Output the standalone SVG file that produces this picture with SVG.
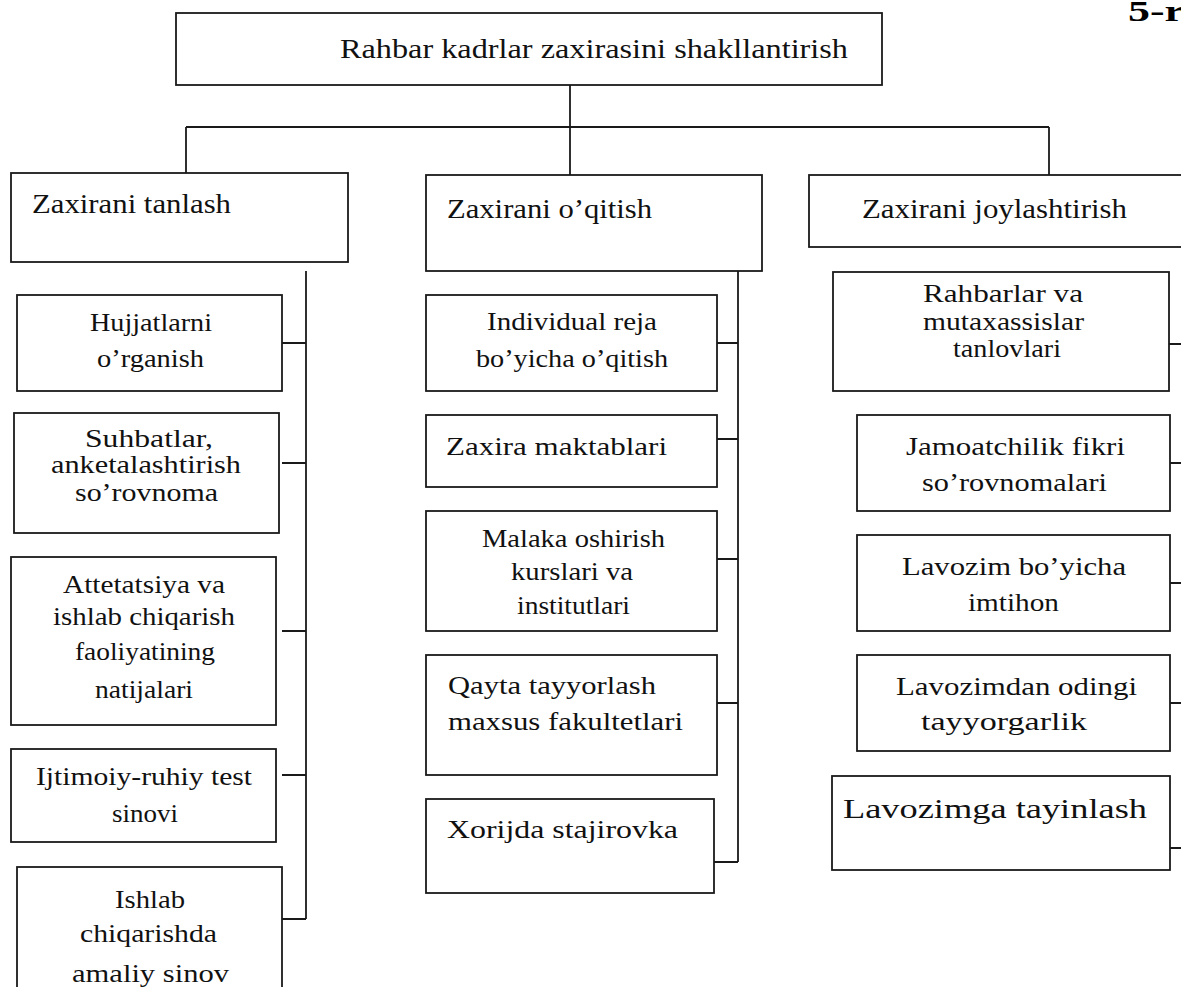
<svg xmlns="http://www.w3.org/2000/svg" width="1181" height="987" viewBox="0 0 1181 987">
  <style>
    .box { fill: #ffffff; stroke: #1a1a1a; stroke-width: 1.8; }
    .lbl { font-family: "Liberation Serif", "Times New Roman", "DejaVu Serif", serif; font-size: 26px; fill: #111111; }
    .hd { font-size: 27px; }
    .big { font-size: 28px; }
    .ttl { font-family: "Liberation Serif", "Times New Roman", "DejaVu Serif", serif; font-size: 30px; font-weight: bold; fill: #000000; }
    .wire { fill: none; stroke: #1a1a1a; stroke-width: 1.8; }
  </style>
  <rect x="0" y="0" width="1181" height="987" fill="#ffffff"/>

  <text class="ttl" x="1128" y="21" textLength="56" lengthAdjust="spacingAndGlyphs">5-r</text>

  <!-- connectors -->
  <g id="connectors">
    <path class="wire" d="M570,85 V127 M186,127 H1049 M186,127 V173 M570,127 V175 M1049,127 V175"/>
    <!-- left branch spine -->
    <path class="wire" d="M306,271 V919 M282,343 H306 M282,463 H306 M282,631 H306 M282,775 H306 M282,919 H306"/>
    <!-- middle branch spine -->
    <path class="wire" d="M738,271 V862 M714,343 H738 M714,439 H738 M714,559 H738 M714,703 H738 M714,862 H738"/>
    <!-- right branch stubs -->
    <path class="wire" d="M1169,344 H1181 M1170,463 H1181 M1170,583 H1181 M1170,703 H1181 M1170,848 H1181"/>
  </g>

  <!-- root -->
  <g id="root">
    <rect class="box" x="176" y="13" width="706" height="72"/>
    <text class="lbl hd" x="340" y="58" textLength="508" lengthAdjust="spacingAndGlyphs">Rahbar kadrlar zaxirasini  shakllantirish</text>
  </g>

  <!-- left column -->
  <g id="zaxirani-tanlash">
    <rect class="box" x="11" y="173" width="337" height="89"/>
    <text class="lbl hd" x="32" y="213" textLength="199" lengthAdjust="spacingAndGlyphs">Zaxirani  tanlash</text>
  </g>
  <g id="hujjatlarni">
    <rect class="box" x="17" y="295" width="265" height="96"/>
    <text class="lbl" x="90" y="331" textLength="122" lengthAdjust="spacingAndGlyphs">Hujjatlarni</text>
    <text class="lbl" x="97" y="367" textLength="107" lengthAdjust="spacingAndGlyphs">o’rganish</text>
  </g>
  <g id="suhbatlar">
    <rect class="box" x="14" y="413" width="265" height="120"/>
    <text class="lbl" x="85" y="447" textLength="128" lengthAdjust="spacingAndGlyphs">Suhbatlar,</text>
    <text class="lbl" x="51" y="473" textLength="190" lengthAdjust="spacingAndGlyphs">anketalashtirish</text>
    <text class="lbl" x="75" y="501" textLength="143" lengthAdjust="spacingAndGlyphs">so’rovnoma</text>
  </g>
  <g id="attetatsiya">
    <rect class="box" x="11" y="557" width="265" height="168"/>
    <text class="lbl" x="63" y="593" textLength="162" lengthAdjust="spacingAndGlyphs">Attetatsiya va</text>
    <text class="lbl" x="53" y="625" textLength="182" lengthAdjust="spacingAndGlyphs">ishlab chiqarish</text>
    <text class="lbl" x="75" y="660" textLength="140" lengthAdjust="spacingAndGlyphs">faoliyatining</text>
    <text class="lbl" x="95" y="698" textLength="98" lengthAdjust="spacingAndGlyphs">natijalari</text>
  </g>
  <g id="ijtimoiy">
    <rect class="box" x="11" y="749" width="265" height="93"/>
    <text class="lbl" x="36" y="785" textLength="216" lengthAdjust="spacingAndGlyphs">Ijtimoiy-ruhiy  test</text>
    <text class="lbl" x="112" y="822" textLength="66" lengthAdjust="spacingAndGlyphs">sinovi</text>
  </g>
  <g id="ishlab">
    <rect class="box" x="17" y="867" width="265" height="140"/>
    <text class="lbl" x="115" y="908" textLength="70" lengthAdjust="spacingAndGlyphs">Ishlab</text>
    <text class="lbl" x="80" y="942" textLength="137" lengthAdjust="spacingAndGlyphs">chiqarishda</text>
    <text class="lbl" x="72" y="982" textLength="157" lengthAdjust="spacingAndGlyphs">amaliy  sinov</text>
  </g>

  <!-- middle column -->
  <g id="zaxirani-oqitish">
    <rect class="box" x="426" y="175" width="336" height="96"/>
    <text class="lbl hd" x="447" y="218" textLength="205" lengthAdjust="spacingAndGlyphs">Zaxirani  o’qitish</text>
  </g>
  <g id="individual">
    <rect class="box" x="426" y="295" width="291" height="96"/>
    <text class="lbl" x="487" y="330" textLength="170" lengthAdjust="spacingAndGlyphs">Individual  reja</text>
    <text class="lbl" x="476" y="367" textLength="192" lengthAdjust="spacingAndGlyphs">bo’yicha o’qitish</text>
  </g>
  <g id="zaxira-maktablari">
    <rect class="box" x="426" y="415" width="291" height="72"/>
    <text class="lbl" x="446" y="455" textLength="221" lengthAdjust="spacingAndGlyphs">Zaxira  maktablari</text>
  </g>
  <g id="malaka">
    <rect class="box" x="426" y="511" width="291" height="120"/>
    <text class="lbl" x="482" y="547" textLength="183" lengthAdjust="spacingAndGlyphs">Malaka oshirish</text>
    <text class="lbl" x="511" y="580" textLength="122" lengthAdjust="spacingAndGlyphs">kurslari va</text>
    <text class="lbl" x="517" y="614" textLength="113" lengthAdjust="spacingAndGlyphs">institutlari</text>
  </g>
  <g id="qayta">
    <rect class="box" x="426" y="655" width="291" height="120"/>
    <text class="lbl" x="448" y="694" textLength="208" lengthAdjust="spacingAndGlyphs">Qayta tayyorlash</text>
    <text class="lbl" x="448" y="730" textLength="235" lengthAdjust="spacingAndGlyphs">maxsus  fakultetlari</text>
  </g>
  <g id="xorijda">
    <rect class="box" x="426" y="799" width="288" height="94"/>
    <text class="lbl" x="447" y="838" textLength="231" lengthAdjust="spacingAndGlyphs">Xorijda   stajirovka</text>
  </g>

  <!-- right column -->
  <g id="zaxirani-joylashtirish">
    <rect class="box" x="809" y="175" width="390" height="72"/>
    <text class="lbl hd" x="862" y="218" textLength="265" lengthAdjust="spacingAndGlyphs">Zaxirani  joylashtirish</text>
  </g>
  <g id="rahbarlar">
    <rect class="box" x="833" y="272" width="336" height="119"/>
    <text class="lbl" x="923" y="302" textLength="160" lengthAdjust="spacingAndGlyphs">Rahbarlar  va</text>
    <text class="lbl" x="923" y="330" textLength="161" lengthAdjust="spacingAndGlyphs">mutaxassislar</text>
    <text class="lbl" x="953" y="357" textLength="108" lengthAdjust="spacingAndGlyphs">tanlovlari</text>
  </g>
  <g id="jamoatchilik">
    <rect class="box" x="857" y="415" width="313" height="96"/>
    <text class="lbl" x="906" y="455" textLength="219" lengthAdjust="spacingAndGlyphs">Jamoatchilik  fikri</text>
    <text class="lbl" x="922" y="491" textLength="185" lengthAdjust="spacingAndGlyphs">so’rovnomalari</text>
  </g>
  <g id="lavozim-imtihon">
    <rect class="box" x="857" y="535" width="313" height="96"/>
    <text class="lbl" x="902" y="575" textLength="224" lengthAdjust="spacingAndGlyphs">Lavozim  bo’yicha</text>
    <text class="lbl" x="968" y="611" textLength="91" lengthAdjust="spacingAndGlyphs">imtihon</text>
  </g>
  <g id="lavozimdan">
    <rect class="box" x="857" y="655" width="313" height="96"/>
    <text class="lbl" x="896" y="695" textLength="241" lengthAdjust="spacingAndGlyphs">Lavozimdan  odingi</text>
    <text class="lbl" x="921" y="730" textLength="166" lengthAdjust="spacingAndGlyphs">tayyorgarlik</text>
  </g>
  <g id="lavozimga">
    <rect class="box" x="832" y="776" width="338" height="94"/>
    <text class="lbl big" x="843" y="818" textLength="304" lengthAdjust="spacingAndGlyphs">Lavozimga  tayinlash</text>
  </g>
</svg>
